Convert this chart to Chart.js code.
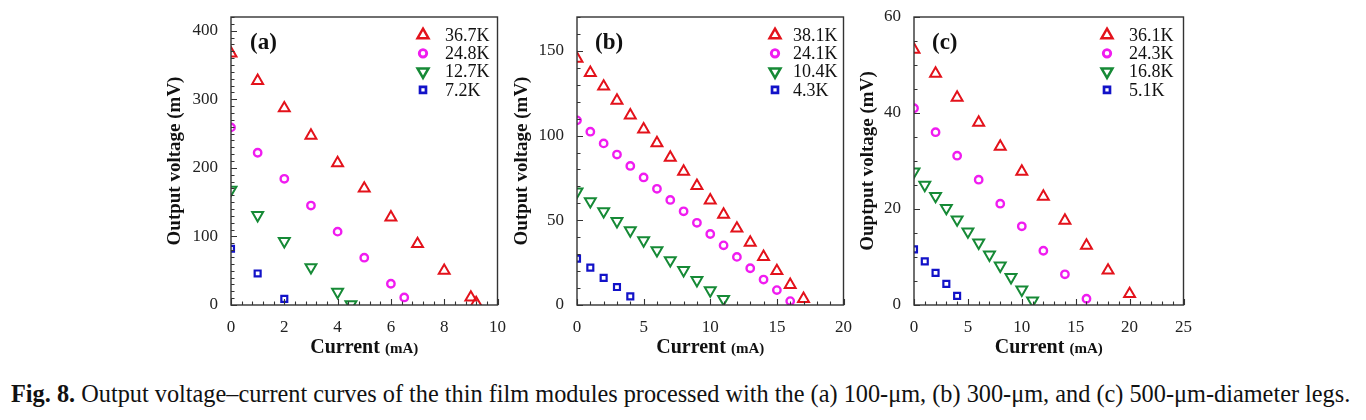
<!DOCTYPE html>
<html>
<head>
<meta charset="utf-8">
<script src="https://cdn.jsdelivr.net/npm/chart.js@4"></script>
<style>
  body { margin: 0; background: #fff; width: 1366px; height: 420px; overflow: hidden; position: relative; }
  .panel { position: absolute; top: 0; }
  #caption { position: absolute; left: 11px; top: 380px; font-family: "Liberation Serif", serif; font-size: 24.3px; color: #111; white-space: nowrap; }
</style>
</head>
<body>
<canvas id="chartA" class="panel" width="350" height="360" style="left:160px"></canvas>
<canvas id="chartB" class="panel" width="350" height="360" style="left:506px"></canvas>
<canvas id="chartC" class="panel" width="350" height="360" style="left:846px"></canvas>
<div id="caption"><b>Fig. 8.</b> Output voltage–current curves of the thin film modules processed with the (a) 100-μm, (b) 300-μm, and (c) 500-μm-diameter legs.</div>
<script>
// ---- data ----
// (a) 100-um legs
const labelsA = ["36.7K", "24.8K", "12.7K", "7.2K"];
const a1x = [0, 1, 2, 3, 4, 5, 6, 7, 8, 9, 9.2];
const a1y = [367, 327, 287, 247, 207, 170, 128, 89, 50, 11, 3];
const a2x = [0, 1, 2, 3, 4, 5, 6, 6.5];
const a2y = [259, 222, 184, 145, 107, 69, 31, 11];
const a3x = [0, 1, 2, 3, 4, 4.5];
const a3y = [168, 131, 93, 55, 19, 1];
const a4x = [0, 1, 2];
const a4y = [82, 46, 9];

// (b) 300-um legs
const labelsB = ["38.1K", "24.1K", "10.4K", "4.3K"];
const b1x = [0, 1, 2, 3, 4, 5, 6, 7, 8, 9, 10, 11, 12, 13, 14, 15, 16, 17];
const b1y = [145.5, 137, 129, 120.7, 112, 103.7, 95.6, 87, 78.8, 70.4, 61.8, 53.4, 45.2, 36.8, 28.4, 20.1, 11.9, 3.7];
const b2x = [0, 1, 2, 3, 4, 5, 6, 7, 8, 9, 10, 11, 12, 13, 14, 15, 16];
const b2y = [109, 102.3, 95.4, 88.8, 82.1, 75.3, 68.6, 62, 55.3, 48.5, 41.9, 35.2, 28.4, 21.7, 15, 8.8, 2.3];
const b3x = [0, 1, 2, 3, 4, 5, 6, 7, 8, 9, 10, 11];
const b3y = [66.9, 61.2, 55.3, 49.5, 44, 38.1, 32.3, 26.4, 20.5, 14.7, 8.6, 3.5];
const b4x = [0, 1, 2, 3, 4];
const b4y = [27.4, 22.1, 16, 10.6, 5.1];

// (c) 500-um legs
const labelsC = ["36.1K", "24.3K", "16.8K", "5.1K"];
const c1x = [0, 2, 4, 6, 8, 10, 12, 14, 16, 18, 20];
const c1y = [53.2, 48.2, 43.2, 38, 33, 27.8, 22.6, 17.6, 12.4, 7.2, 2.3];
const c2x = [0, 2, 4, 6, 8, 10, 12, 14, 16];
const c2y = [41, 36, 31.1, 26.1, 21.1, 16.4, 11.3, 6.4, 1.3];
const c3x = [0, 1, 2, 3, 4, 5, 6, 7, 8, 9, 10, 11];
const c3y = [27.8, 25, 22.7, 20.2, 17.8, 15.3, 13, 10.5, 8.2, 5.8, 3.2, 0.9];
const c4x = [0, 1, 2, 3, 4];
const c4y = [11.6, 9.1, 6.7, 4.4, 1.9];

// marker look for the four series (same in every panel)
const markers = [
  { color: "#e3121b", style: "triangle", rotation: 0, radius: 6.3, width: 2 },
  { color: "#f01cf0", style: "circle", rotation: 0, radius: 3.7, width: 2.4 },
  { color: "#168a36", style: "triangle", rotation: 180, radius: 6.3, width: 2 },
  { color: "#1212c8", style: "rect", rotation: 0, radius: 4.2, width: 2.2 },
];

function toPoints(xs, ys) {
  return xs.map((x, i) => ({ x: x, y: ys[i] }));
}

function isMajor(v, step) {
  const q = v / step;
  return Math.abs(q - Math.round(q)) < 1e-6;
}

// box, inward ticks, legend, panel letter and axis titles
const framePlugin = {
  id: "frame",
  afterDatasetsDraw(chart, args, opts) {
    const ctx = chart.ctx;
    const area = chart.chartArea;
    ctx.save();
    ctx.strokeStyle = "#333";
    ctx.lineWidth = 1.4;
    ctx.strokeRect(area.left, area.top, area.right - area.left, area.bottom - area.top);
    ctx.lineWidth = 1.1;
    const xs = chart.scales.x, ys = chart.scales.y;
    ctx.beginPath();
    xs.ticks.forEach((t) => {
      const px = Math.round(xs.getPixelForValue(t.value)) + 0.5;
      const len = isMajor(t.value, opts.xMajor) ? 6 : 3.5;
      ctx.moveTo(px, area.bottom);
      ctx.lineTo(px, area.bottom - len);
    });
    ys.ticks.forEach((t) => {
      const py = Math.round(ys.getPixelForValue(t.value)) + 0.5;
      const len = isMajor(t.value, opts.yMajor) ? 6 : 3.5;
      ctx.moveTo(area.left, py);
      ctx.lineTo(area.left + len, py);
    });
    ctx.stroke();
    ctx.restore();
  },
  afterDraw(chart, args, opts) {
    const ctx = chart.ctx;
    const area = chart.chartArea;
    ctx.save();
    // legend
    ctx.font = "18px 'Liberation Serif'";
    ctx.textBaseline = "middle";
    chart.data.datasets.forEach((ds, i) => {
      const m = markers[i];
      const y = opts.legendTop + i * 18.3;
      ctx.strokeStyle = m.color;
      ctx.fillStyle = "rgba(0,0,0,0)";
      ctx.lineWidth = m.width + 0.5;
      Chart.helpers.drawPoint(ctx, { pointStyle: m.style, rotation: m.rotation, radius: m.radius, borderWidth: m.width + 0.5 }, opts.legendMarkX, y);
      ctx.fillStyle = "#111";
      ctx.textAlign = "left";
      ctx.fillText(ds.label, opts.legendTextX, y + 1);
    });
    // panel letter
    ctx.fillStyle = "#111";
    ctx.font = "bold 23px 'Liberation Serif'";
    ctx.textAlign = "left";
    ctx.fillText(opts.letter, area.left + opts.letterDx, area.top + 26);
    // x title: "Current" large, "(mA)" small
    const cx = (area.left + area.right) / 2;
    ctx.font = "bold 20px 'Liberation Serif'";
    const w1 = ctx.measureText("Current ").width;
    ctx.font = "bold 15px 'Liberation Serif'";
    const w2 = ctx.measureText("(mA)").width;
    const x0 = cx - (w1 + w2) / 2;
    ctx.textBaseline = "alphabetic";
    ctx.font = "bold 20px 'Liberation Serif'";
    ctx.fillText("Current ", x0, 353);
    ctx.font = "bold 15px 'Liberation Serif'";
    ctx.fillText("(mA)", x0 + w1, 353);
    // y title
    ctx.translate(area.left - opts.yTitleGap, (area.top + area.bottom) / 2);
    ctx.rotate(-Math.PI / 2);
    ctx.font = "bold 19px 'Liberation Serif'";
    ctx.textAlign = "center";
    ctx.textBaseline = "middle";
    ctx.fillText(opts.yTitle, 0, 0);
    ctx.restore();
  },
};

function makePanel(id, labels, series, p) {
  const datasets = series.map((pts, i) => ({
    label: labels[i],
    data: pts,
    showLine: false,
    clip: 0,
    pointStyle: markers[i].style,
    rotation: markers[i].rotation,
    pointRadius: markers[i].radius,
    pointHoverRadius: markers[i].radius,
    pointBorderWidth: markers[i].width,
    pointBorderColor: markers[i].color,
    pointBackgroundColor: "rgba(0,0,0,0)",
  }));
  const tickFont = { family: "'Liberation Serif'", size: 17 };
  return new Chart(document.getElementById(id), {
    type: "scatter",
    data: { datasets: datasets },
    plugins: [framePlugin],
    options: {
      responsive: false,
      animation: false,
      events: [],
      layout: { padding: { top: 17, right: p.padRight, left: 0, bottom: 0 } },
      plugins: {
        legend: { display: false },
        tooltip: { enabled: false },
        frame: p,
      },
      scales: {
        x: {
          type: "linear",
          min: 0,
          max: p.xMax,
          grid: { display: false },
          border: { display: false },
          ticks: {
            stepSize: p.xMinor,
            autoSkip: false,
            maxRotation: 0,
            padding: 4,
            color: "#222",
            font: tickFont,
            callback: (v) => (isMajor(v, p.xMajor) ? String(Math.round(v)) : ""),
          },
          afterFit: (s) => { s.height = 55; },
        },
        y: {
          type: "linear",
          min: 0,
          max: p.yMax,
          grid: { display: false },
          border: { display: false },
          ticks: {
            stepSize: p.yMinor,
            autoSkip: false,
            padding: 5,
            color: "#222",
            font: tickFont,
            callback: (v) => (isMajor(v, p.yMajor) ? String(Math.round(v)) : ""),
          },
          afterFit: (s) => { s.width = p.yWidth; },
        },
      },
    },
  });
}

makePanel("chartA", labelsA,
  [toPoints(a1x, a1y), toPoints(a2x, a2y), toPoints(a3x, a3y), toPoints(a4x, a4y)],
  { xMax: 10, xMajor: 2, xMinor: 0.4, yMax: 420, yMajor: 100, yMinor: 10,
    yWidth: 71, padRight: 12, letter: "(a)", letterDx: 19, yTitle: "Output voltage (mV)", yTitleGap: 56,
    legendTop: 35, legendMarkX: 263, legendTextX: 285 });

makePanel("chartB", labelsB,
  [toPoints(b1x, b1y), toPoints(b2x, b2y), toPoints(b3x, b3y), toPoints(b4x, b4y)],
  { xMax: 20, xMajor: 5, xMinor: 1, yMax: 170, yMajor: 50, yMinor: 10,
    yWidth: 71, padRight: 11, letter: "(b)", letterDx: 18, yTitle: "Output voltage (mV)", yTitleGap: 55,
    legendTop: 35, legendMarkX: 269, legendTextX: 287 });

makePanel("chartC", labelsC,
  [toPoints(c1x, c1y), toPoints(c2x, c2y), toPoints(c3x, c3y), toPoints(c4x, c4y)],
  { xMax: 25, xMajor: 5, xMinor: 1, yMax: 60, yMajor: 20, yMinor: 5,
    yWidth: 68, padRight: 12, letter: "(c)", letterDx: 18, yTitle: "Ouptput voltage (mV)", yTitleGap: 46,
    legendTop: 35, legendMarkX: 261, legendTextX: 283 });
</script>
</body>
</html>
